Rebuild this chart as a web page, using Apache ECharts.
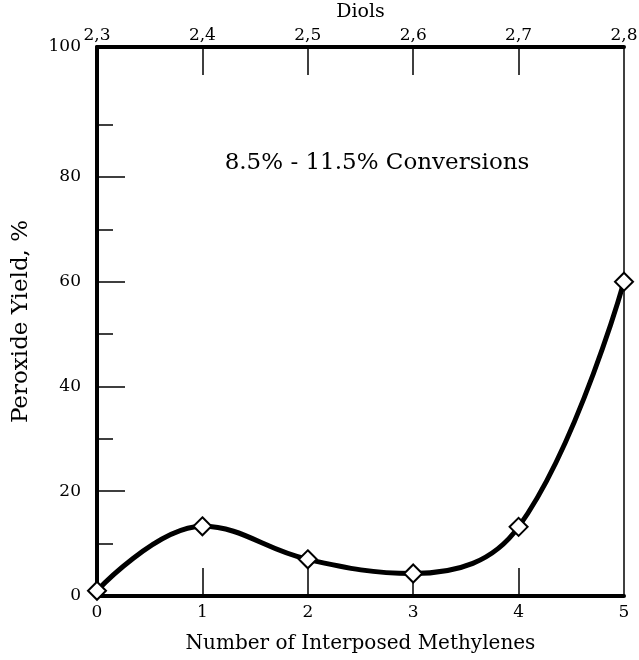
<!DOCTYPE html>
<html>
<head>
<meta charset="utf-8">
<script src="https://cdn.jsdelivr.net/npm/echarts@6/dist/echarts.min.js"></script>
<style>
html,body{margin:0;padding:0;background:#fff;}
#chart{width:639px;height:660px;}
</style>
</head>
<body>
<div id="chart"></div>
<script>
// Data
var methylenes = [0, 1, 2, 3, 4, 5];
var peroxideYield = [1, 13.3, 7, 4.3, 13.2, 60];
var diolLabels = ["2,3", "2,4", "2,5", "2,6", "2,7", "2,8"];
var xInnerTicks = [1, 2, 3, 4];
var yMajorTicks = [20, 40, 60, 80];
var yMinorTicks = [10, 30, 50, 70, 90];
var yTop = 104.8;            // value at the top frame (labelled "100")
var yLabelValues = [0, 20, 40, 60, 80, yTop];
var yLabelTexts = ["0", "20", "40", "60", "80", "100"];
var annotation = "8.5% - 11.5% Conversions";

var FONT = "DejaVu Serif";
var chart = echarts.init(document.getElementById('chart'), null, {renderer: 'canvas'});

var pts = methylenes.map(function (x, i) { return [x, peroxideYield[i]]; });

chart.setOption({
  backgroundColor: '#ffffff',
  animation: false,
  grid: {left: 97, right: 15, top: 47, bottom: 64, containLabel: false, outerBoundsMode: 'none'},
  xAxis: [
    {
      type: 'value', position: 'bottom', min: 0, max: 5, interval: 1,
      axisLine: {show: true, onZero: false, lineStyle: {color: '#000', width: 4}},
      axisTick: {show: true, inside: true, length: 28, lineStyle: {color: '#000', width: 1.5},
                 customValues: xInnerTicks},
      axisLabel: {color: '#000', fontFamily: FONT, fontSize: 17, margin: 8},
      splitLine: {show: false},
      name: 'Number of Interposed Methylenes', nameLocation: 'middle', nameGap: 38,
      nameTextStyle: {color: '#000', fontFamily: FONT, fontSize: 20}
    },
    {
      type: 'value', position: 'top', min: 0, max: 5, interval: 1,
      axisLine: {show: true, onZero: false, lineStyle: {color: '#000', width: 4}},
      axisTick: {show: true, inside: true, length: 28, lineStyle: {color: '#000', width: 1.5},
                 customValues: xInnerTicks},
      axisLabel: {color: '#000', fontFamily: FONT, fontSize: 17, margin: 3,
                  formatter: function (v) { return diolLabels[Math.round(v)]; }},
      splitLine: {show: false},
      name: 'Diols', nameLocation: 'middle', nameGap: 25,
      nameTextStyle: {color: '#000', fontFamily: FONT, fontSize: 19}
    }
  ],
  yAxis: [
    {
      type: 'value', position: 'left', min: 0, max: yTop,
      axisLine: {show: true, onZero: false, lineStyle: {color: '#000', width: 4}},
      axisTick: {show: true, inside: true, length: 28, lineStyle: {color: '#000', width: 1.5},
                 customValues: yMajorTicks},
      axisLabel: {color: '#000', fontFamily: FONT, fontSize: 17, margin: 16,
                  customValues: yLabelValues,
                  formatter: function (v) {
                    var i = yLabelValues.indexOf(v);
                    return i >= 0 ? yLabelTexts[i] : '';
                  }},
      splitLine: {show: false},
      name: 'Peroxide Yield, %', nameLocation: 'middle', nameGap: 64, nameRotate: 90,
      nameTextStyle: {color: '#000', fontFamily: FONT, fontSize: 23}
    },
    {
      type: 'value', position: 'left', min: 0, max: yTop,
      axisLine: {show: false, onZero: false},
      axisTick: {show: true, inside: true, length: 16, lineStyle: {color: '#000', width: 1.5},
                 customValues: yMinorTicks},
      axisLabel: {show: false},
      splitLine: {show: false}
    },
    {
      type: 'value', position: 'right', min: 0, max: yTop,
      axisLine: {show: true, onZero: false, lineStyle: {color: '#000', width: 1.5}},
      axisTick: {show: false},
      axisLabel: {show: false},
      splitLine: {show: false}
    }
  ],
  graphic: [
    {
      type: 'text', x: 377, y: 163,
      style: {text: annotation, fill: '#000', font: '23px "DejaVu Serif"', align: 'center', verticalAlign: 'middle'}
    }
  ],
  series: [
    {
      type: 'line', xAxisIndex: 0, yAxisIndex: 0,
      data: pts, smooth: 0.4,
      lineStyle: {color: '#000', width: 5},
      symbol: 'diamond', symbolSize: 18, showAllSymbol: true,
      itemStyle: {color: '#fff', borderColor: '#000', borderWidth: 2},
      z: 5
    }
  ]
});
</script>
</body>
</html>
